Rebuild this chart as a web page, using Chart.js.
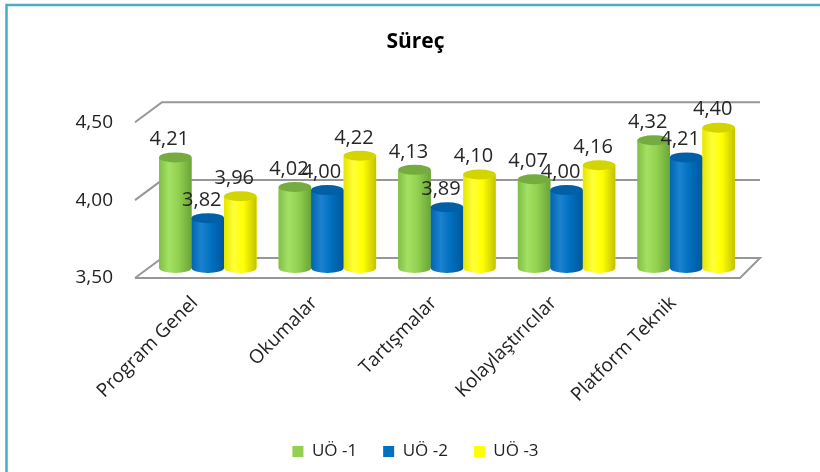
<!DOCTYPE html>
<html>
<head>
<meta charset="utf-8">
<script src="https://cdn.jsdelivr.net/npm/chart.js@4"></script>
<style>
    body { margin: 0; background: #fff; }
    #box { width: 820px; height: 472px; }
</style>
</head>
<body>
<div id="box"><canvas id="graficoSurec" width="820" height="472"></canvas></div>
<script>
// Dados
var categorias = ['Program Genel', 'Okumalar', 'Tartışmalar', 'Kolaylaştırıcılar', 'Platform Teknik']
var serie_uo1 = [4.21, 4.02, 4.13, 4.07, 4.32]
var serie_uo2 = [3.82, 4.00, 3.89, 4.00, 4.21]
var serie_uo3 = [3.96, 4.22, 4.10, 4.16, 4.40]
var nomes_series = ['UÖ -1', 'UÖ -2', 'UÖ -3']
var eixo_min = 3.5
var eixo_max = 4.5
var eixo_passo = 0.5

var fonte = "'Open Sans', 'DejaVu Sans', sans-serif"

// cores de cada cilindro: [borda esq, brilho, meio, borda dir, tampa]
var cores = [
    ['#80bf47', '#a4e163', '#92d050', '#6aa537', '#76ab40'],
    ['#0066b2', '#1c82cf', '#0070c0', '#00579a', '#005fa6'],
    ['#e6e600', '#ffff3a', '#ffff00', '#c2c200', '#d4d400']
]

function virgula(v) {
    return Number(v).toFixed(2).replace('.', ',')
}

// Moldura 3D (parede do fundo, lateral e piso)
var moldura3d = {
    id: 'moldura3d',
    beforeDraw(chart) {
        var ctx = chart.ctx
        ctx.save()
        ctx.fillStyle = '#fff'
        ctx.fillRect(0, 0, chart.width, chart.height)
        ctx.strokeStyle = '#4bacc6'
        ctx.lineWidth = 2.5
        ctx.beginPath()
        ctx.moveTo(6.5, chart.height)
        ctx.lineTo(6.5, 5)
        ctx.lineTo(chart.width, 5)
        ctx.stroke()
        ctx.restore()
    },
    beforeDatasetsDraw(chart) {
        var ctx = chart.ctx
        var area = chart.chartArea
        var y = chart.scales.y
        var frenteEsq = area.left - 13, frenteDir = area.right - 6
        var fundoEsq = area.left + 14, fundoDir = area.right + 14
        ctx.save()
        ctx.strokeStyle = '#979797'
        ctx.lineWidth = 2
        y.ticks.forEach(function (t) {
            var py = y.getPixelForValue(t.value)
            ctx.beginPath()
            ctx.moveTo(frenteEsq, py + 10)
            ctx.lineTo(fundoEsq, py - 10)
            ctx.lineTo(fundoDir, py - 10)
            if (t.value == eixo_min) {
                ctx.lineTo(frenteDir, py + 10)
                ctx.lineTo(frenteEsq, py + 10)
            }
            ctx.stroke()
        })
        ctx.restore()
    },
    afterDatasetsDraw(chart) {
        var ctx = chart.ctx
        ctx.save()
        chart.data.datasets.forEach(function (ds, i) {
            var meta = chart.getDatasetMeta(i)
            var c = cores[i]
            meta.data.forEach(function (bar) {
                var p = bar.getProps(['x', 'y', 'base', 'width'], true)
                var rx = p.width / 2, ry = 5
                var esq = p.x - rx, dir = p.x + rx
                var grad = ctx.createLinearGradient(esq, 0, dir, 0)
                grad.addColorStop(0, c[0])
                grad.addColorStop(0.3, c[1])
                grad.addColorStop(0.6, c[2])
                grad.addColorStop(1, c[3])
                ctx.fillStyle = grad
                ctx.beginPath()
                ctx.moveTo(esq, p.y)
                ctx.lineTo(esq, p.base)
                ctx.ellipse(p.x, p.base, rx, ry, 0, Math.PI, 0, true)
                ctx.lineTo(dir, p.y)
                ctx.closePath()
                ctx.fill()
                // tampa
                ctx.fillStyle = c[4]
                ctx.beginPath()
                ctx.ellipse(p.x, p.y, rx, ry, 0, 0, Math.PI * 2)
                ctx.fill()
            })
        })
        // rótulos de valor
        ctx.fillStyle = '#262626'
        ctx.font = '20px ' + fonte
        ctx.textAlign = 'center'
        ctx.textBaseline = 'middle'
        chart.data.datasets.forEach(function (ds, i) {
            chart.getDatasetMeta(i).data.forEach(function (bar, j) {
                ctx.fillText(virgula(ds.data[j]), bar.x - 6, bar.y - 18)
            })
        })
        ctx.restore()
    }
}

// altura da legenda ajustada
var legendaFit = {
    id: 'legendaFit',
    beforeInit(chart) {
        var fitOriginal = chart.legend.fit
        chart.legend.fit = function () {
            fitOriginal.bind(chart.legend)()
            this.height = 55
        }
    }
}

var ctxSurec = document.getElementById('graficoSurec').getContext('2d')
var graficoSurec = new Chart(ctxSurec, {
    type: 'bar',
    data: {
        labels: categorias,
        datasets: [
            { label: nomes_series[0], data: serie_uo1, backgroundColor: '#92d050' },
            { label: nomes_series[1], data: serie_uo2, backgroundColor: '#0070c0' },
            { label: nomes_series[2], data: serie_uo3, backgroundColor: '#ffff00' }
        ]
    },
    options: {
        responsive: false,
        animation: false,
        events: [],
        layout: { padding: { left: 11, right: 0, top: 0, bottom: 0 } },
        datasets: { bar: { categoryPercentage: 0.815, barPercentage: 1.0, base: eixo_min } },
        plugins: {
            title: {
                display: true,
                text: 'Süreç',
                color: '#000',
                font: { family: fonte, size: 21, weight: 'bold' },
                padding: { top: 29, bottom: 58 }
            },
            legend: {
                position: 'bottom',
                labels: {
                    boxWidth: 11,
                    boxHeight: 11,
                    padding: 26,
                    color: '#222',
                    font: { family: fonte, size: 17 }
                }
            },
            tooltip: { enabled: false }
        },
        scales: {
            x: {
                grid: { display: false },
                border: { display: false },
                ticks: {
                    autoSkip: false,
                    maxRotation: 45,
                    minRotation: 45,
                    labelOffset: -13,
                    padding: 16,
                    color: '#222',
                    font: { family: fonte, size: 19 }
                },
                afterFit(scale) { scale.height = 149 }
            },
            y: {
                min: eixo_min,
                max: eixo_max,
                grid: { display: false },
                border: { display: false },
                ticks: {
                    stepSize: eixo_passo,
                    padding: 27,
                    labelOffset: 10,
                    color: '#222',
                    font: { family: fonte, size: 19 },
                    callback: function (v) { return virgula(v) }
                },
                afterFit(scale) { scale.width = 137 }
            },
            // eixo vazio à direita só para reservar espaço
            direita: {
                position: 'right',
                min: eixo_min,
                max: eixo_max,
                grid: { display: false },
                border: { display: false },
                ticks: { display: false },
                afterFit(scale) { scale.width = 74 }
            }
        }
    },
    plugins: [moldura3d, legendaFit]
})
</script>
</body>
</html>
